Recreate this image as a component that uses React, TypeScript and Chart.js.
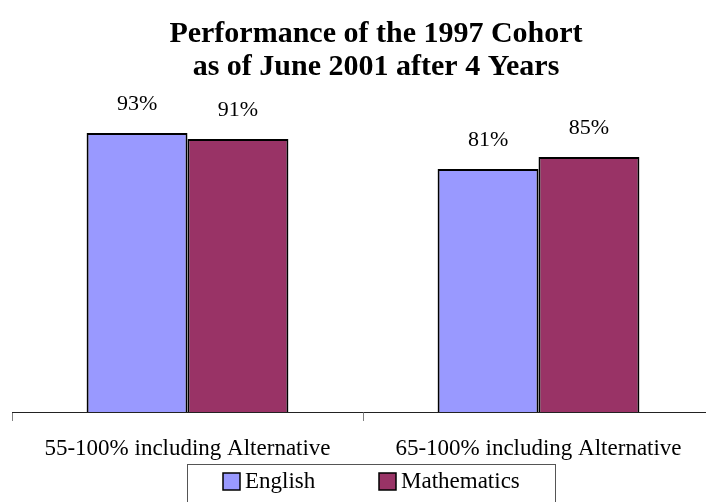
import React, { useEffect, useRef } from "react";
import { Chart, registerables } from "chart.js";

Chart.register(...registerables);

const categories = ["55-100% including Alternative", "65-100% including Alternative"];
const seriesNames = ["English", "Mathematics"];
const englishValues = [93, 81];
const mathValues = [91, 85];
const seriesColors = ["#9999FF", "#993366"];
const titleLines = ["Performance of the 1997 Cohort", "as of June 2001 after 4 Years"];

const SERIF = "'Liberation Serif', 'Times New Roman', serif";

const titlePlugin = {
  id: "customTitle",
  afterDraw(chart: any) {
    const ctx = chart.ctx;
    ctx.save();
    ctx.fillStyle = "#000";
    ctx.font = `bold 30px ${SERIF}`;
    ctx.textAlign = "center";
    ctx.textBaseline = "alphabetic";
    titleLines.forEach((line, i) => {
      ctx.fillText(line, 376, 42 + i * 33);
    });
    ctx.restore();
  },
};

const valueLabelPlugin = {
  id: "valueLabels",
  afterDatasetsDraw(chart: any) {
    const ctx = chart.ctx;
    ctx.save();
    ctx.fillStyle = "#000";
    ctx.font = `22px ${SERIF}`;
    ctx.textAlign = "center";
    ctx.textBaseline = "middle";
    chart.data.datasets.forEach((ds: any, di: number) => {
      const meta = chart.getDatasetMeta(di);
      meta.data.forEach((el: any, i: number) => {
        ctx.fillText(`${ds.data[i]}%`, el.x, el.y - 29);
      });
    });
    ctx.restore();
  },
};

const legendPlugin = {
  id: "boxedLegend",
  afterDraw(chart: any) {
    const ctx = chart.ctx;
    const itemX = [223, 379];
    ctx.save();
    ctx.strokeStyle = "#555";
    ctx.lineWidth = 1;
    ctx.strokeRect(187.5, 464.5, 368, 60);
    ctx.font = `23px ${SERIF}`;
    ctx.textBaseline = "alphabetic";
    ctx.textAlign = "left";
    chart.data.datasets.forEach((ds: any, di: number) => {
      const x = itemX[di];
      ctx.fillStyle = ds.backgroundColor;
      ctx.fillRect(x, 473, 17, 17);
      ctx.strokeStyle = "#000";
      ctx.lineWidth = 1.5;
      ctx.strokeRect(x, 473, 17, 17);
      ctx.fillStyle = "#000";
      ctx.fillText(ds.label, x + 22, 488);
    });
    ctx.restore();
  },
};

export default function App() {
  const ref = useRef<HTMLCanvasElement | null>(null);

  useEffect(() => {
    if (!ref.current) return;
    const chart = new Chart(ref.current, {
      type: "bar",
      data: {
        labels: categories,
        datasets: [
          {
            label: seriesNames[0],
            data: englishValues,
            backgroundColor: seriesColors[0],
            borderColor: "#000",
            borderWidth: 2,
            categoryPercentage: 0.575,
            barPercentage: 1,
          },
          {
            label: seriesNames[1],
            data: mathValues,
            backgroundColor: seriesColors[1],
            borderColor: "#000",
            borderWidth: 2,
            categoryPercentage: 0.575,
            barPercentage: 1,
          },
        ],
      },
      options: {
        responsive: false,
        animation: false,
        devicePixelRatio: 1,
        layout: { padding: { top: 112, left: 12, right: 6, bottom: 0 } },
        plugins: {
          legend: { display: false },
          title: { display: false },
          tooltip: { enabled: false },
        },
        scales: {
          y: { display: false, min: 0, max: 100 },
          x: {
            display: true,
            afterFit: (scale: any) => {
              scale.height = 90;
            },
            grid: {
              display: true,
              drawOnChartArea: false,
              drawTicks: true,
              tickLength: 9,
              color: "#808080",
              lineWidth: 1,
            },
            border: { display: true, color: "#222", width: 1 },
            ticks: {
              color: "#000",
              font: { family: SERIF, size: 23 },
              padding: 14,
              maxRotation: 0,
              autoSkip: false,
            },
          },
        },
      },
      plugins: [titlePlugin, valueLabelPlugin, legendPlugin],
    });
    return () => chart.destroy();
  }, []);

  return (
    <div
      style={{
        position: "fixed",
        left: 0,
        top: 0,
        width: 706,
        height: 502,
        overflow: "hidden",
        background: "#fff",
      }}
    >
      <canvas ref={ref} width={720} height={502} style={{ width: 720, height: 502, display: "block" }} />
    </div>
  );
}
